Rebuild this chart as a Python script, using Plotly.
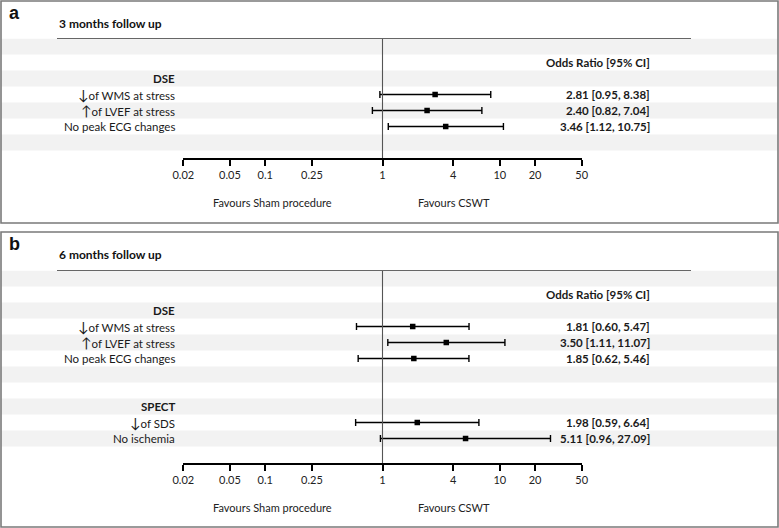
import plotly.graph_objects as go
import math

# ---------------- data ----------------
tick_vals = [0.02, 0.05, 0.1, 0.25, 1, 4, 10, 20, 50]
tick_text = ["0.02", "0.05", "0.1", "0.25", "1", "4", "10", "20", "50"]

a_groups = ["DSE"]
a_measures = [["↓|of WMS at stress", "↑|of LVEF at stress", "No peak ECG changes"]]
a_or = [[2.81, 2.40, 3.46]]
a_lo = [[0.95, 0.82, 1.12]]
a_hi = [[8.38, 7.04, 10.75]]

b_groups = ["DSE", "SPECT"]
b_measures = [["↓|of WMS at stress", "↑|of LVEF at stress", "No peak ECG changes"],
              ["↓|of SDS", "No ischemia"]]
b_or = [[1.81, 3.50, 1.85], [1.98, 5.11]]
b_lo = [[0.60, 1.11, 0.62], [0.59, 0.96]]
b_hi = [[5.47, 11.07, 5.46], [6.64, 27.09]]

titles = ["3 months follow up", "6 months follow up"]
letters = ["a", "b"]
header = "Odds Ratio [95% CI]"
fav_left = "Favours Sham procedure"
fav_right = "Favours CSWT"

# ---------------- layout helpers ----------------
W, H = 779, 528
FONT = "Lato"
def px(x):
    return x / W
def py(y):
    return 1 - y / H

def fmt_label(s):
    if "|" in s:
        arrow, rest = s.split("|", 1)
        return "<span style='font-size:14px'>" + arrow + "</span>" + rest
    return s

fig = go.Figure()
annotations = []
shapes = []

panels = [
    dict(groups=a_groups, measures=a_measures, orv=a_or, lo=a_lo, hi=a_hi,
         box=(1, 1, 778, 223), top=38.5, axis=158.3, nrows=7, title_y=24, letter_y=12.5,
         fav_y=202),
    dict(groups=b_groups, measures=b_measures, orv=b_or, lo=b_lo, hi=b_hi,
         box=(1, 232, 778, 527), top=270.5, axis=463.3, nrows=11, title_y=255, letter_y=243.5,
         fav_y=507),
]
ROW = 16.0
xdom = [px(183.3), px(581.7)]

for k, p in enumerate(panels):
    xa = "x" if k == 0 else "x2"
    ya = "y" if k == 0 else "y2"
    xkey = "xaxis" if k == 0 else "xaxis2"
    ykey = "yaxis" if k == 0 else "yaxis2"
    ybottom = -0.5 + (p["axis"] - p["top"]) / ROW

    ys, xs, ep, em = [], [], [], []
    row = 2
    for gi, g in enumerate(p["groups"]):
        annotations.append(dict(text="<b>" + g + "</b>", xref="paper", yref=ya, x=px(177), y=row,
                                xanchor="right", yanchor="middle", showarrow=False,
                                font=dict(family=FONT, size=11.5, color="#1a1a1a")))
        row += 1
        for mi, m in enumerate(p["measures"][gi]):
            o, l, h = p["orv"][gi][mi], p["lo"][gi][mi], p["hi"][gi][mi]
            ys.append(row); xs.append(o); ep.append(h - o); em.append(o - l)
            annotations.append(dict(text=fmt_label(m), xref="paper", yref=ya, x=px(177), y=row,
                                    xanchor="right", yanchor="middle", showarrow=False,
                                    font=dict(family=FONT, size=11.5, color="#1a1a1a")))
            annotations.append(dict(text="<b>%.2f [%.2f, %.2f]</b>" % (o, l, h), xref="paper", yref=ya,
                                    x=px(652), y=row, xanchor="right", yanchor="middle", showarrow=False,
                                    font=dict(family=FONT, size=11.5, color="#1a1a1a")))
            row += 1
        row += 2

    fig.add_trace(go.Scatter(
        x=xs, y=ys, xaxis=xa, yaxis=ya, mode="markers",
        marker=dict(symbol="square", size=5.5, color="black"),
        error_x=dict(type="data", array=ep, arrayminus=em, color="black", thickness=1.4, width=3.5),
        showlegend=False, hoverinfo="skip"))

    for r in range(0, p["nrows"], 2):
        shapes.append(dict(type="rect", xref="paper", yref=ya, x0=px(1), x1=px(778),
                           y0=r - 0.5, y1=r + 0.5, fillcolor="#f2f2f2", line=dict(width=0), layer="below"))
    annotations.append(dict(text="<b>" + header + "</b>", xref="paper", yref=ya, x=px(652), y=1,
                            xanchor="right", yanchor="middle", showarrow=False,
                            font=dict(family=FONT, size=11.5, color="#1a1a1a")))
    shapes.append(dict(type="line", xref=xa, yref=ya, x0=1, x1=1, y0=-0.5, y1=ybottom,
                       line=dict(color="#555555", width=1.1)))
    shapes.append(dict(type="line", xref="paper", yref="paper", x0=px(57), x1=px(691),
                       y0=py(p["top"]), y1=py(p["top"]), line=dict(color="#666666", width=1.2)))
    bx0, by0, bx1, by1 = p["box"]
    shapes.append(dict(type="rect", xref="paper", yref="paper", x0=px(bx0), x1=px(bx1),
                       y0=py(by1), y1=py(by0), line=dict(color="#7a7a7a", width=1.6)))
    annotations.append(dict(text="<b>" + titles[k] + "</b>", xref="paper", yref="paper", x=px(57),
                            y=py(p["title_y"]), xanchor="left", yanchor="middle", showarrow=False,
                            font=dict(family=FONT, size=12, color="#111111")))
    annotations.append(dict(text="<b>" + letters[k] + "</b>", xref="paper", yref="paper", x=px(7),
                            y=py(p["letter_y"]), xanchor="left", yanchor="middle", showarrow=False,
                            font=dict(family="Liberation Sans", size=18, color="#111111")))
    annotations.append(dict(text=fav_left, xref="paper", yref="paper", x=px(272), y=py(p["fav_y"]),
                            xanchor="center", yanchor="middle", showarrow=False,
                            font=dict(family=FONT, size=11, color="#222222")))
    annotations.append(dict(text=fav_right, xref="paper", yref="paper", x=px(454), y=py(p["fav_y"]),
                            xanchor="center", yanchor="middle", showarrow=False,
                            font=dict(family=FONT, size=11, color="#222222")))

    fig.layout[xkey] = dict(type="log", domain=xdom, range=[math.log10(0.02), math.log10(50)],
                            anchor=ya, tickvals=tick_vals, ticktext=tick_text, ticks="outside",
                            ticklen=6, tickwidth=2, tickcolor="black", showline=True,
                            linecolor="black", linewidth=1.6, showgrid=False, zeroline=False,
                            automargin=False,
                            tickfont=dict(family=FONT, size=11, color="#222222"), fixedrange=True)
    fig.layout[ykey] = dict(domain=[py(p["axis"]), py(p["top"])], range=[ybottom, -0.5],
                            visible=False, showgrid=False, zeroline=False, anchor=xa,
                            automargin=False, fixedrange=True)

fig.update_layout(width=W, height=H,
                  margin=dict(l=0, r=0, t=0, b=0, pad=0, autoexpand=False), autosize=False,
                  paper_bgcolor="white", plot_bgcolor="rgba(0,0,0,0)",
                  annotations=annotations, shapes=shapes, showlegend=False)

post = (
    "document.body.style.margin='0px';document.body.style.padding='0px';"
    "document.body.style.overflow='hidden';"
)
fig.write_html("out.html", config={"displayModeBar": False, "responsive": False},
               post_script=post)
